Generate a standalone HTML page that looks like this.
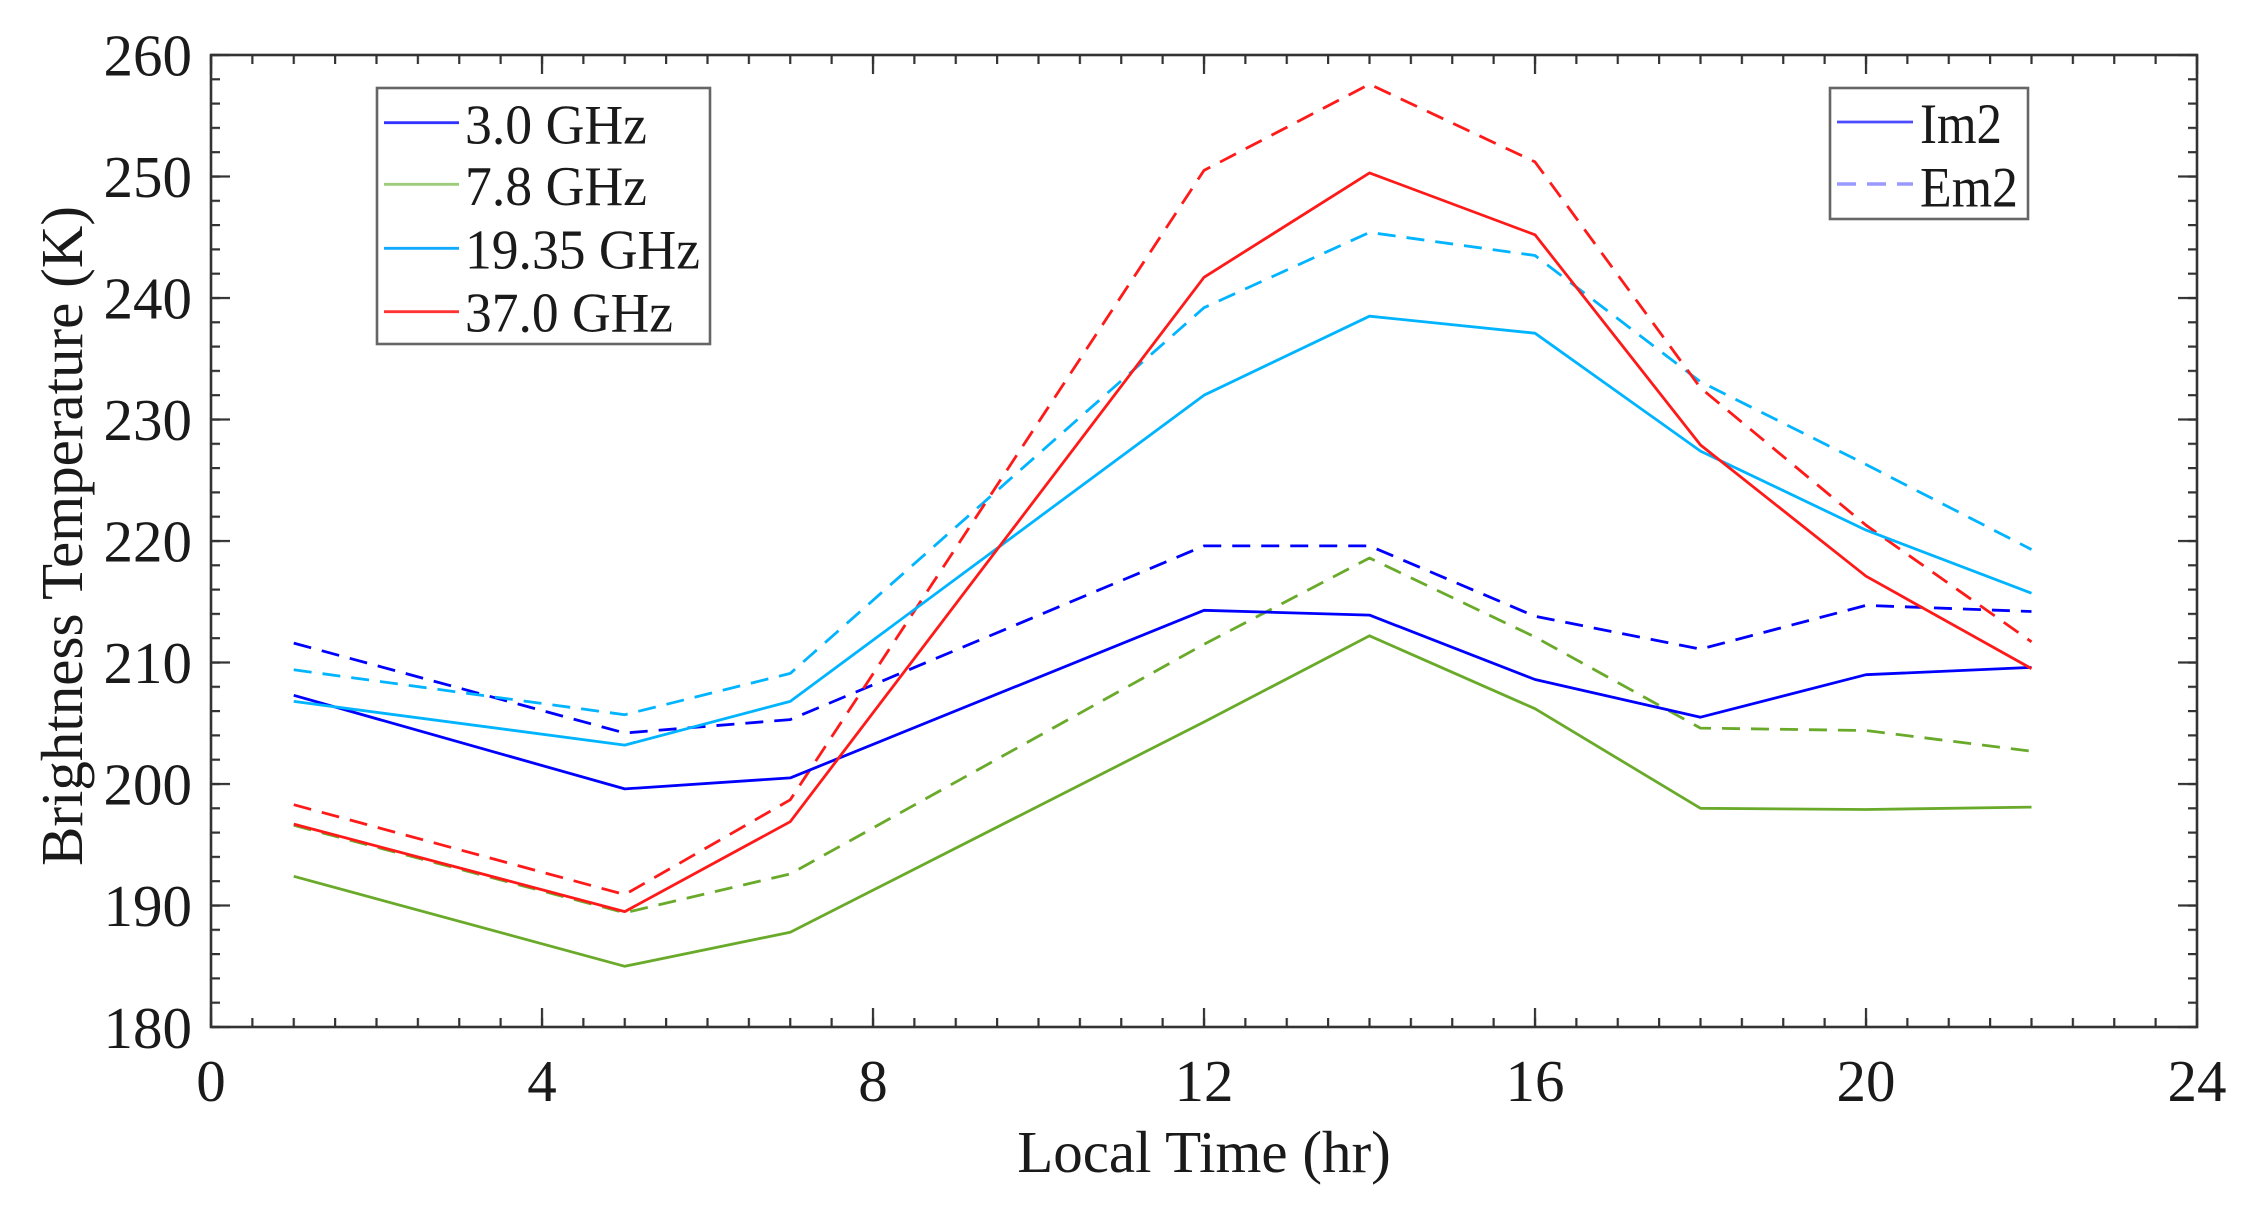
<!DOCTYPE html>
<html>
<head>
<meta charset="utf-8">
<style>
  html,body{margin:0;padding:0;background:#fff;}
  svg{display:block;}
  text{font-family:"Liberation Serif","Times New Roman",serif;fill:#1a1a1a;}
</style>
</head>
<body>
<svg width="2265" height="1222" viewBox="0 0 2265 1222" xmlns="http://www.w3.org/2000/svg">
  <defs>
    <pattern id="xmin" patternUnits="userSpaceOnUse" x="209.9" y="0" width="41.375" height="1222">
      <rect x="0" y="0" width="2.2" height="1222" fill="#333"/>
    </pattern>
    <pattern id="xmaj" patternUnits="userSpaceOnUse" x="209.9" y="0" width="331" height="1222">
      <rect x="0" y="0" width="2.2" height="1222" fill="#333"/>
    </pattern>
    <pattern id="ymin" patternUnits="userSpaceOnUse" x="0" y="53.9" width="2265" height="24.3">
      <rect x="0" y="0" width="2265" height="2.2" fill="#333"/>
    </pattern>
    <pattern id="ymaj" patternUnits="userSpaceOnUse" x="0" y="53.9" width="2265" height="121.5">
      <rect x="0" y="0" width="2265" height="2.2" fill="#333"/>
    </pattern>
  </defs>

  <rect x="0" y="0" width="2265" height="1222" fill="#fff"/>

  <!-- x ticks bottom and top -->
  <rect x="205" y="1018" width="1998" height="9" fill="url(#xmin)"/>
  <rect x="205" y="1008" width="1998" height="19" fill="url(#xmaj)"/>
  <rect x="205" y="55" width="1998" height="9" fill="url(#xmin)"/>
  <rect x="205" y="55" width="1998" height="19" fill="url(#xmaj)"/>
  <!-- y ticks left and right -->
  <rect x="211" y="50" width="9" height="982" fill="url(#ymin)"/>
  <rect x="211" y="50" width="19" height="982" fill="url(#ymaj)"/>
  <rect x="2188" y="50" width="9" height="982" fill="url(#ymin)"/>
  <rect x="2178" y="50" width="19" height="982" fill="url(#ymaj)"/>

  <!-- data: dashed (Em2) -->
  <g fill="none" stroke-width="2.8" stroke-linejoin="round" stroke-dasharray="18 11">
    <polyline stroke="#6aaa2a" points="293.75,825.3 624.75,912.8 790.25,873.9 1204,644.3 1369.5,558.0 1535,637.0 1700.5,728.1 1866,730.5 2031.5,751.2"/>
    <polyline stroke="#0000ff" points="293.75,643.1 624.75,733.0 790.25,719.6 1204,545.9 1369.5,545.9 1535,616.3 1700.5,649.1 1866,605.4 2031.5,611.5"/>
    <polyline stroke="#00b4ff" points="293.75,669.8 624.75,714.7 790.25,673.4 1204,307.7 1369.5,232.4 1535,255.5 1700.5,381.8 1866,464.5 2031.5,549.5"/>
    <polyline stroke="#ff1a1a" points="293.75,804.7 624.75,894.6 790.25,799.8 1204,170.4 1369.5,84.2 1535,161.9 1700.5,387.9 1866,525.2 2031.5,641.8"/>
  </g>

  <!-- data: solid (Im2) -->
  <g fill="none" stroke-width="2.8" stroke-linejoin="round">
    <polyline stroke="#6aaa2a" points="293.75,876.3 624.75,966.3 790.25,932.2 1204,722.0 1369.5,635.8 1535,708.7 1700.5,808.3 1866,809.5 2031.5,807.1"/>
    <polyline stroke="#0000ff" points="293.75,695.3 624.75,788.9 790.25,777.9 1204,610.3 1369.5,615.1 1535,679.5 1700.5,717.2 1866,674.7 2031.5,667.4"/>
    <polyline stroke="#00b4ff" points="293.75,701.4 624.75,745.1 790.25,701.4 1204,395.2 1369.5,316.2 1535,333.2 1700.5,451.1 1866,530.1 2031.5,593.2"/>
    <polyline stroke="#ff1a1a" points="293.75,824.1 624.75,911.6 790.25,821.7 1204,277.3 1369.5,172.9 1535,234.8 1700.5,445.0 1866,576.2 2031.5,668.6"/>
  </g>

  <!-- frame -->
  <rect x="211" y="55" width="1986" height="972" fill="none" stroke="#333" stroke-width="2.6"/>

  <!-- legend 1 -->
  <rect x="377" y="88" width="333" height="256" fill="#fff" stroke="#666" stroke-width="2.6"/>
  <line x1="384" y1="122.7" x2="459" y2="122.7" stroke="#3333ff" stroke-width="2.8"/>
  <line x1="384" y1="184.3" x2="459" y2="184.3" stroke="#9ccc7c" stroke-width="2.8"/>
  <line x1="384" y1="248.3" x2="459" y2="248.3" stroke="#11aaff" stroke-width="2.8"/>
  <line x1="384" y1="311.7" x2="459" y2="311.7" stroke="#ff3333" stroke-width="2.8"/>
  <text x="465" y="143.3" font-size="56" textLength="182" lengthAdjust="spacingAndGlyphs">3.0 GHz</text>
  <text x="465" y="205" font-size="56" textLength="182" lengthAdjust="spacingAndGlyphs">7.8 GHz</text>
  <text x="465" y="268.3" font-size="56" textLength="235" lengthAdjust="spacingAndGlyphs">19.35 GHz</text>
  <text x="465" y="331.7" font-size="56" textLength="208" lengthAdjust="spacingAndGlyphs">37.0 GHz</text>

  <!-- legend 2 -->
  <rect x="1830" y="88" width="198" height="131" fill="#fff" stroke="#666" stroke-width="2.6"/>
  <line x1="1837" y1="122" x2="1913" y2="122" stroke="#4d4dff" stroke-width="2.8"/>
  <line x1="1837" y1="184" x2="1913" y2="184" stroke="#9999ff" stroke-width="3.5" stroke-dasharray="19 11"/>
  <text x="1920" y="143" font-size="57" textLength="82" lengthAdjust="spacingAndGlyphs">Im2</text>
  <text x="1920" y="206.7" font-size="57" textLength="98" lengthAdjust="spacingAndGlyphs">Em2</text>

  <!-- x tick labels -->
  <text x="211" y="1101" font-size="59" text-anchor="middle">0</text>
  <text x="542" y="1101" font-size="59" text-anchor="middle">4</text>
  <text x="873" y="1101" font-size="59" text-anchor="middle">8</text>
  <text x="1204" y="1101" font-size="59" text-anchor="middle">12</text>
  <text x="1535" y="1101" font-size="59" text-anchor="middle">16</text>
  <text x="1866" y="1101" font-size="59" text-anchor="middle">20</text>
  <text x="2197" y="1101" font-size="59" text-anchor="middle">24</text>

  <!-- y tick labels -->
  <text x="192" y="75.5" font-size="59" text-anchor="end">260</text>
  <text x="192" y="197" font-size="59" text-anchor="end">250</text>
  <text x="192" y="318.5" font-size="59" text-anchor="end">240</text>
  <text x="192" y="440" font-size="59" text-anchor="end">230</text>
  <text x="192" y="561.5" font-size="59" text-anchor="end">220</text>
  <text x="192" y="683" font-size="59" text-anchor="end">210</text>
  <text x="192" y="804.5" font-size="59" text-anchor="end">200</text>
  <text x="192" y="926" font-size="59" text-anchor="end">190</text>
  <text x="192" y="1048" font-size="59" text-anchor="end">180</text>

  <!-- axis labels -->
  <text x="1204" y="1172" font-size="59" text-anchor="middle">Local Time (hr)</text>
  <text transform="translate(82,536) rotate(-90)" x="0" y="0" font-size="59" text-anchor="middle">Brightness Temperature (K)</text>
</svg>
</body>
</html>
